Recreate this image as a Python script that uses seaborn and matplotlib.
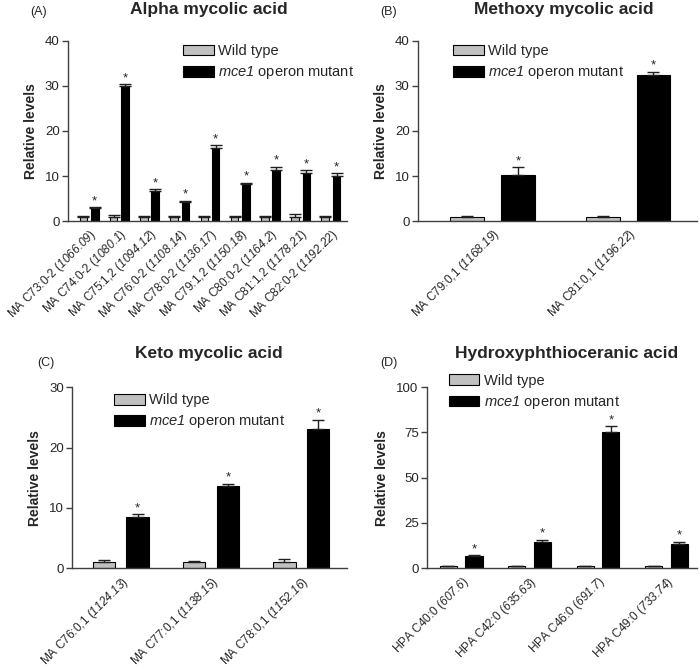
import pandas as pd
import matplotlib
matplotlib.use('Agg')
import matplotlib.pyplot as plt
import seaborn as sns

# data
a_lipids = ['MA C73:0-2', 'MA C74:0-2', 'MA C75:1,2', 'MA C76:0-2', 'MA C78:0-2',
            'MA C79:1,2', 'MA C80:0-2', 'MA C81:1,2', 'MA C82:0-2']
a_mass = ['1066.09', '1080.1', '1094.12', '1108.14', '1136.17', '1150.18', '1164.2', '1178.21', '1192.22']
a_wt = [1.0, 1.0, 1.0, 1.0, 1.0, 1.0, 1.0, 1.0, 1.0]
a_wt_err = [0.1, 0.3, 0.1, 0.05, 0.1, 0.05, 0.1, 0.5, 0.1]
a_mut = [2.9, 30.0, 6.7, 4.3, 16.2, 8.3, 11.4, 10.6, 9.9]
a_mut_err = [0.2, 0.4, 0.4, 0.2, 0.6, 0.2, 0.7, 0.7, 0.7]

b_lipids = ['MA C79:0,1', 'MA C81:0,1']
b_mass = ['1168.19', '1196.22']
b_wt = [1.0, 1.0]
b_wt_err = [0.05, 0.05]
b_mut = [10.2, 32.4]
b_mut_err = [1.7, 0.8]

c_lipids = ['MA C76:0,1', 'MA C77:0,1', 'MA C78:0,1']
c_mass = ['1124.13', '1138.15', '1152.16']
c_wt = [1.0, 1.0, 1.0]
c_wt_err = [0.3, 0.2, 0.6]
c_mut = [8.5, 13.6, 23.0]
c_mut_err = [0.4, 0.4, 1.6]

d_lipids = ['HPA C40:0', 'HPA C42:0', 'HPA C46:0', 'HPA C49:0']
d_mass = ['607.6', '635.63', '691.7', '733.74']
d_wt = [1.0, 1.0, 1.0, 1.0]
d_wt_err = [0.1, 0.1, 0.1, 0.1]
d_mut = [6.8, 14.5, 75.0, 13.2]
d_mut_err = [0.5, 1.3, 3.5, 1.3]

# \mathsf is mapped to the italic face below, so digits get italic too
groups = ['Wild type', r'$\mathsf{mce1}$ operon mutant']

sns.set_theme(style='ticks')
plt.rcParams['font.family'] = ['Liberation Sans', 'DejaVu Sans']
plt.rcParams['mathtext.fontset'] = 'custom'
plt.rcParams['mathtext.rm'] = 'Liberation Sans'
plt.rcParams['mathtext.it'] = 'Liberation Sans:italic'
plt.rcParams['mathtext.sf'] = 'Liberation Sans:italic'
plt.rcParams['mathtext.bf'] = 'Liberation Sans:bold'

axis_col = '#404040'

fig = plt.figure(figsize=(7, 6.7), dpi=100)


def draw_panel(rect, lipids, mass, wt, wt_err, mut, mut_err, ymax, yticks, xlim,
               title, title_x, title_y, letter, letter_x, letter_y, leg_xy):
    ax = fig.add_axes(rect)
    labels = [f'{l} ($\\mathsf{{{m}}}$)' for l, m in zip(lipids, mass)]
    df = pd.DataFrame({
        'lipid': labels * 2,
        'group': [groups[0]] * len(labels) + [groups[1]] * len(labels),
        'value': wt + mut,
    })
    sns.barplot(data=df, x='lipid', y='value', hue='group', palette=['#c0c0c0', 'black'],
                width=0.75, gap=1 / 3, edgecolor='black', linewidth=0.8,
                errorbar=None, ax=ax)
    # one-sided error bars + asterisks
    for cont, errs, star in zip(ax.containers, [wt_err, mut_err], [False, True]):
        for bar, e in zip(cont, errs):
            x = bar.get_x() + bar.get_width() / 2
            top = bar.get_height()
            ax.errorbar(x, top, yerr=[[0], [e]], fmt='none', ecolor='#202020',
                        elinewidth=1, capsize=4.5, capthick=1)
            if star:
                ax.annotate('*', (x, top + e), xytext=(0, 0), textcoords='offset points',
                            ha='center', va='bottom', fontsize=9.5)
    ax.set_ylim(0, ymax)
    ax.set_yticks(yticks)
    ax.set_xlim(*xlim)
    ax.set_xlabel('')
    ax.set_ylabel('Relative levels', fontsize=10, fontweight='bold', labelpad=5)
    ax.tick_params(axis='y', length=4, width=1, color=axis_col, labelsize=9.5, pad=2)
    ax.tick_params(axis='x', length=0, labelsize=8.6, pad=4)
    plt.setp(ax.get_xticklabels(), rotation=45, ha='right', rotation_mode='anchor')
    sns.despine(ax=ax)
    for s in ['left', 'bottom']:
        ax.spines[s].set_color(axis_col)
        ax.spines[s].set_linewidth(1)
    h, l = ax.get_legend_handles_labels()
    ax.legend(h, l, frameon=False, loc='upper left', bbox_to_anchor=leg_xy,
              bbox_transform=fig.transFigure, fontsize=10.5, handlelength=2.1,
              handleheight=0.75, labelspacing=0.42, handletextpad=0.3,
              borderpad=0, borderaxespad=0)
    fig.text(title_x, title_y, title, ha='center', va='center', fontsize=12.5, fontweight='bold')
    fig.text(letter_x, letter_y, letter, ha='left', va='center', fontsize=9)
    return ax


draw_panel([0.097, 0.670, 0.399, 0.269], a_lipids, a_mass, a_wt, a_wt_err, a_mut, a_mut_err,
           40, [0, 10, 20, 30, 40], (-0.7, 8.54),
           'Alpha mycolic acid', 0.299, 0.986, '(A)', 0.043, 0.982, (0.262, 0.934))
draw_panel([0.597, 0.670, 0.399, 0.269], b_lipids, b_mass, b_wt, b_wt_err, b_mut, b_mut_err,
           40, [0, 10, 20, 30, 40], (-0.55, 1.51),
           'Methoxy mycolic acid', 0.805, 0.986, '(B)', 0.543, 0.982, (0.647, 0.934))
draw_panel([0.103, 0.152, 0.393, 0.270], c_lipids, c_mass, c_wt, c_wt_err, c_mut, c_mut_err,
           30, [0, 10, 20, 30], (-0.54, 2.51),
           'Keto mycolic acid', 0.299, 0.472, '(C)', 0.053, 0.458, (0.163, 0.413))
draw_panel([0.610, 0.152, 0.386, 0.270], d_lipids, d_mass, d_wt, d_wt_err, d_mut, d_mut_err,
           100, [0, 25, 50, 75, 100], (-0.5, 3.45),
           'Hydroxyphthioceranic acid', 0.81, 0.472, '(D)', 0.543, 0.458, (0.641, 0.442))

fig.savefig('out.png', dpi=100)
